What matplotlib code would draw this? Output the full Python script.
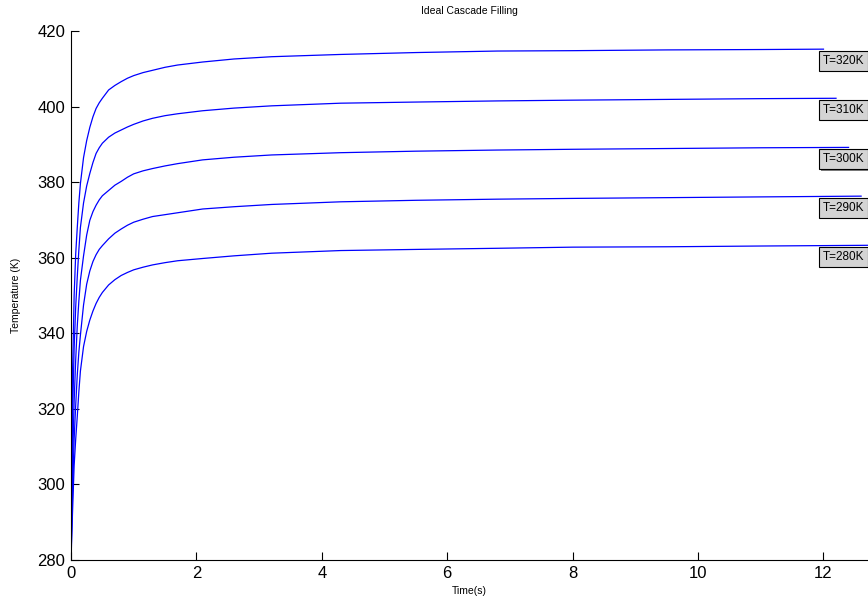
# Ideal cascade filling: tank temperature vs time for several inlet temperatures
import numpy as np
import matplotlib.pyplot as plt
from matplotlib import patheffects as pe

plt.rcParams['font.family'] = ['Liberation Sans', 'DejaVu Sans']

# time points (s)
time = [0, 0.025, 0.05, 0.075, 0.1, 0.125, 0.15, 0.2, 0.25, 0.3, 0.35, 0.4,
        0.45, 0.5, 0.6, 0.7, 0.8, 0.9, 1.0, 1.15, 1.3, 1.5, 1.7, 2.1, 2.6,
        3.2, 4.3, 5.5, 6.8, 8.0, 9.5, 11.0]

# last time point of each curve (s)
t_end = [12.0, 12.2, 12.4, 12.6, 12.8]

labels = ['T=320K', 'T=310K', 'T=300K', 'T=290K', 'T=280K']

# temperatures (K), one list per curve; last value belongs to t_end
T_320 = [280, 330, 350, 361, 368, 374.5, 379.6, 386.5, 391.0, 394.5, 397.3, 399.5,
         401.0, 402.2, 404.4, 405.6, 406.6, 407.5, 408.2, 409.0, 409.6, 410.4, 411.0,
         411.8, 412.6, 413.2, 413.8, 414.3, 414.7, 414.8, 415.0, 415.1, 415.2]
T_310 = [280, 318, 336, 347, 355, 362, 368, 374.5, 379.0, 382.3, 385.2, 387.6,
         389.1, 390.3, 391.9, 393.0, 393.8, 394.6, 395.3, 396.2, 396.9, 397.6, 398.1,
         398.9, 399.6, 400.2, 400.9, 401.2, 401.5, 401.7, 401.9, 402.1, 402.2]
T_300 = [280, 306, 322, 333, 342, 348.5, 354, 360.5, 366.0, 369.9, 372.2, 373.9,
         375.3, 376.4, 377.8, 379.2, 380.2, 381.3, 382.2, 383.0, 383.6, 384.3, 384.9,
         385.9, 386.6, 387.2, 387.8, 388.2, 388.5, 388.7, 388.9, 389.1, 389.2]
T_290 = [280, 298, 312, 321, 329, 335, 339.5, 347.5, 353.0, 356.5, 359.0, 360.8,
         362.2, 363.2, 365.0, 366.5, 367.6, 368.6, 369.4, 370.2, 370.9, 371.4, 371.9,
         372.9, 373.5, 374.1, 374.8, 375.2, 375.5, 375.7, 375.9, 376.1, 376.3]
T_280 = [280, 293, 305, 312, 318, 324.5, 330, 336.5, 340.5, 343.5, 345.9, 347.9,
         349.5, 350.8, 352.8, 354.2, 355.3, 356.1, 356.8, 357.5, 358.1, 358.7, 359.2,
         359.8, 360.5, 361.2, 361.9, 362.2, 362.5, 362.8, 362.9, 363.1, 363.3]

curves = [T_320, T_310, T_300, T_290, T_280]

fig = plt.figure(figsize=(8.68, 6.07), dpi=100)
ax = fig.add_axes([0.0818, 0.0774, 0.9182, 0.8715])

for T, te, lab in zip(curves, t_end, labels):
    t = time + [te]
    ax.plot(t, T, color='#0000ff', linewidth=0.9)
    # label box just under the end of the curve
    txt = ax.text(11.99, T[-1] - 3.1, lab, fontsize=8.5, ha='left', va='center',
                  bbox=dict(boxstyle='square,pad=0.32', facecolor='#d4d4d4',
                            edgecolor='black', linewidth=0.8),
                  clip_on=False)
    txt.get_bbox_patch().set_path_effects(
        [pe.SimplePatchShadow(offset=(1.2, -1.2), shadow_rgbFace='#808080', alpha=1),
         pe.Normal()])

ax.set_xlim(0, 12.71)
ax.set_ylim(280, 420)
ax.set_xticks(np.arange(0, 13, 2))
ax.set_yticks(np.arange(280, 421, 20))
ax.tick_params(direction='in', length=6, width=0.8, labelsize=12, pad=4)
ax.spines['top'].set_visible(False)
ax.spines['right'].set_visible(False)
for s in ['left', 'bottom']:
    ax.spines[s].set_linewidth(0.8)

ax.set_title('Ideal Cascade Filling', fontsize=7.5, pad=12)
ax.set_xlabel('Time(s)', fontsize=7.5, labelpad=4)
ax.set_ylabel('Temperature (K)', fontsize=7.5, labelpad=12)

fig.savefig('out.png', dpi=100)
